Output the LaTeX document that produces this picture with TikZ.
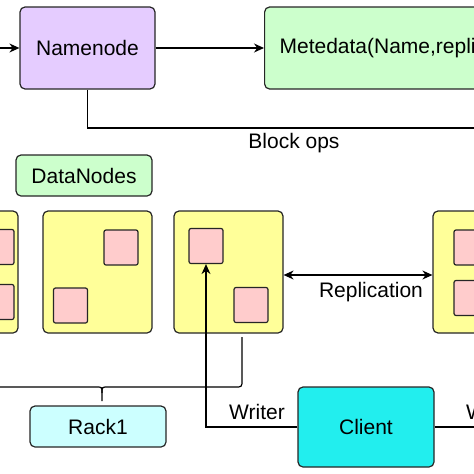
\documentclass[tikz,border=0pt]{standalone}
\usepackage{fontspec}
\setmainfont{Liberation Sans}
\usetikzlibrary{arrows.meta,positioning}
\definecolor{Cname}{HTML}{E5CCFF}
\definecolor{Cmeta}{HTML}{CCFFCC}
\definecolor{Cdata}{HTML}{FFFF99}
\definecolor{Cblock}{HTML}{FFCCCC}
\definecolor{Crack}{HTML}{CCFFFF}
\definecolor{Cclient}{HTML}{22EEEE}
\tikzset{
    box/.style={draw=black!85, line width=1.2pt, rounded corners=5pt, inner sep=0pt},
    blk/.style={box, rounded corners=2pt, fill=Cblock, minimum width=34pt, minimum height=35pt},
    dnode/.style={box, fill=Cdata, minimum width=109pt, minimum height=122pt},
    link/.style={line width=1.2pt},
    arr/.style={link, -{Stealth[length=10pt,width=9pt]}},
    darr/.style={link, {Stealth[length=10pt,width=9pt]}-{Stealth[length=10pt,width=9pt]}}
}

\begin{document}
\begin{tikzpicture}[x=1pt, y=-1pt]
    \fontsize{21}{25}\selectfont
    \useasboundingbox (0,0) rectangle (474,474);
    \clip (0,0) rectangle (474,474);
        % name node and metadata
        \node [box, fill=Cname, minimum width=135pt, minimum height=82pt] (namenode) at (87.5,48) {Namenode};
        \node [box, fill=Cmeta, minimum height=82pt, anchor=west, inner xsep=15pt] (meta) at (264,48) {Metedata(Name,replicas,...)\hspace{40pt}};
        \coordinate (in) at (-10,48);
        \coordinate (opsend) at (490,128);
        \draw [arr] (in) -- (namenode.west);
        \draw [arr] (namenode.east) -- (meta.west);
        \draw [link] (namenode.south) |- (opsend);
        \node (ops) at (294,143) {Block ops};
        % data nodes
        \node [box, fill=Cmeta, minimum width=136pt, minimum height=41pt] (dnlabel) at (84,175.5) {DataNodes};
        \node [dnode] (dn1) at (-36.5,272) {};
        \node [dnode] (dn2) at (97.5,272) {};
        \node [dnode] (dn3) at (228.5,272) {};
        \node [dnode] (dn4) at (487.5,272) {};
        \node [blk] (b1a) at (-3,247) {};
        \node [blk] (b1b) at (-3,302) {};
        \node [blk] (b2a) at (121,247.5) {};
        \node [blk] (b2b) at (70.5,305.5) {};
        \node [blk] (b3a) at (206,246) {};
        \node [blk] (b3b) at (251,305) {};
        \node [blk] (b4a) at (471,247.5) {};
        \node [blk] (b4b) at (471,298) {};
        \draw [darr] ([yshift=-3pt]dn3.east) -- ([yshift=-3pt]dn4.west);
        \node (repl) at (371,292) {Replication};
        % rack brace
        \draw [link, line join=round] (242,337) -- (242,380) .. controls (242,387) .. (235,387) -- (108,387)
            .. controls (102,387) .. (102,393) -- (102,401);
        \draw [link, line join=round] (102,393) .. controls (102,387) .. (96,387) -- (-31,387)
            .. controls (-38,387) .. (-38,380) -- (-38,337);
        \node [box, fill=Crack, minimum width=136pt, minimum height=41pt] (rack) at (98,426.5) {Rack1};
        % client
        \node [box, fill=Cclient, minimum width=136pt, minimum height=80pt] (client) at (366,427) {Client};
        \coordinate (wend) at (490,427);
        \draw [arr] (client.west) -| (b3a.south);
        \node [anchor=west] (wr1) at (222,412) {Writer};
        \draw [link] (client.east) -- (wend);
        \node [anchor=west] (wr2) at (459,412) {Writer};
    \end{tikzpicture}
\end{document}
